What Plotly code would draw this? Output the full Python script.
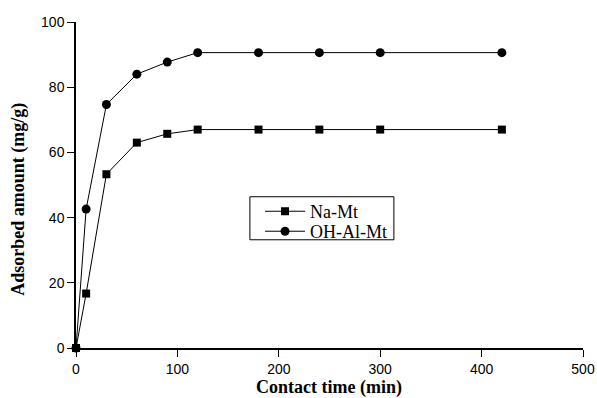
import plotly.graph_objects as go

time_min = [0, 10, 30, 60, 90, 120, 180, 240, 300, 420]
na_mt = [0, 16.7, 53.3, 63.0, 65.7, 67.0, 67.0, 67.0, 67.0, 67.0]
oh_al_mt = [0, 42.6, 74.7, 84.0, 87.7, 90.6, 90.6, 90.6, 90.6, 90.6]

x_ticks = [0, 100, 200, 300, 400, 500]
y_ticks = [0, 20, 40, 60, 80, 100]

serif = "Liberation Serif, Times New Roman, serif"
sans = "Liberation Sans, Arial, sans-serif"

fig = go.Figure()
fig.add_trace(go.Scatter(x=time_min, y=na_mt, name="Na-Mt", mode="lines+markers",
                         line=dict(color="black", width=1),
                         marker=dict(symbol="square", size=8, color="black"),
                         cliponaxis=False, legend="legend"))
fig.add_trace(go.Scatter(x=time_min, y=oh_al_mt, name="OH-Al-Mt", mode="lines+markers",
                         line=dict(color="black", width=1),
                         marker=dict(symbol="circle", size=9, color="black"),
                         cliponaxis=False, legend="legend2"))

leg_common = dict(xanchor="left", yanchor="middle", borderwidth=0,
                  bgcolor="rgba(0,0,0,0)", itemwidth=40,
                  font=dict(family=serif, size=18, color="black"))

fig.update_layout(
    width=597, height=398,
    margin=dict(l=76, r=14, t=22, b=50, autoexpand=False),
    paper_bgcolor="white", plot_bgcolor="white",
    showlegend=True,
    legend=dict(x=0.363, y=0.4186, **leg_common),
    legend2=dict(x=0.363, y=0.3573, **leg_common),
    shapes=[dict(type="rect", xref="paper", yref="paper", x0=0.343, x1=0.627,
                 y0=0.332, y1=0.464, line=dict(color="black", width=1),
                 fillcolor="rgba(0,0,0,0)", layer="below")],
    xaxis=dict(range=[0, 500], tickvals=x_ticks, showline=True, linecolor="black", linewidth=1.5,
               ticks="outside", ticklen=7, tickcolor="black", showgrid=False, zeroline=False,
               automargin=False,
               tickfont=dict(family=sans, size=14, color="black")),
    yaxis=dict(range=[0, 100], tickvals=y_ticks, showline=True, linecolor="black", linewidth=1.5,
               ticks="outside", ticklen=7, tickcolor="black", showgrid=False, zeroline=False,
               automargin=False,
               tickfont=dict(family=sans, size=14, color="black")),
    annotations=[
        dict(text="<b>Contact time (min)</b>", xref="paper", yref="paper",
             x=0.499, y=-0.1217, xanchor="center", yanchor="middle", showarrow=False,
             font=dict(family=serif, size=18, color="black")),
        dict(text="<b>Adsorbed amount (mg/g)</b>", xref="paper", yref="paper",
             x=-0.1124, y=0.4545, xanchor="center", yanchor="middle", showarrow=False,
             textangle=-90, font=dict(family=serif, size=18, color="black")),
    ],
)

fig.write_html("out.html", config={"displayModeBar": False},
               post_script="document.body.style.margin='0';document.body.style.overflow='hidden';")
